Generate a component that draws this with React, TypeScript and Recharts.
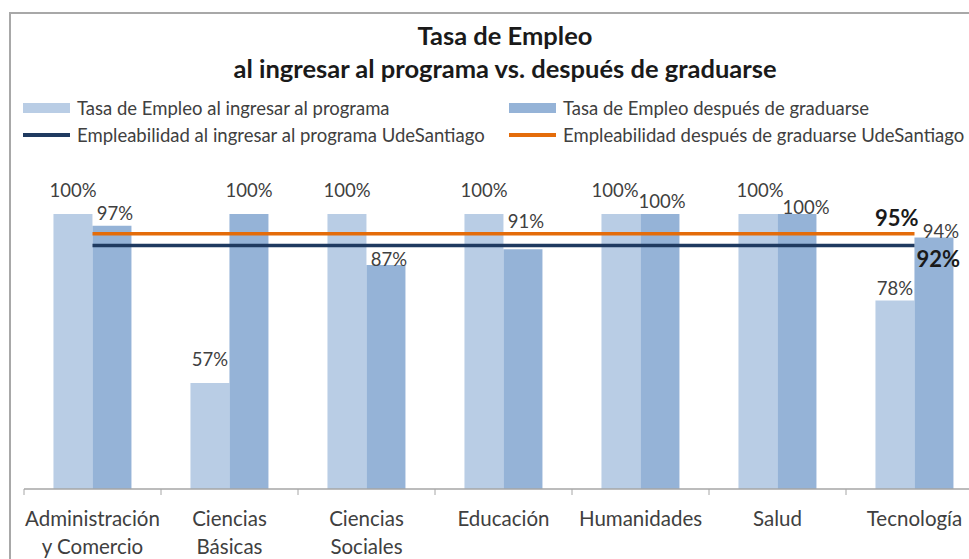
import { ComposedChart, Bar, Line, XAxis, YAxis, LabelList } from 'recharts';

const categories = [
  'Administración\ny Comercio',
  'Ciencias\nBásicas',
  'Ciencias\nSociales',
  'Educación',
  'Humanidades',
  'Salud',
  'Tecnología',
];
const tasaIngreso = [100, 57, 100, 100, 100, 100, 78];
const tasaGraduado = [97, 100, 87, 91, 100, 100, 94];
const empleabIngreso = [92, 92, 92, 92, 92, 92, 92];
const empleabGraduado = [95, 95, 95, 95, 95, 95, 95];

const seriesNames = {
  ingreso: 'Tasa de Empleo al ingresar al programa',
  graduado: 'Tasa de Empleo después de graduarse',
  empIngreso: 'Empleabilidad al ingresar al programa UdeSantiago',
  empGraduado: 'Empleabilidad después de graduarse UdeSantiago',
};

// label nudges copied from the hand-placed labels of the original
const ingresoLift = [24, 24, 24, 24, 24, 24, 12];
const graduadoLift = [13, 24, 6, 28, 13, 7, 7];
const graduadoShift = [3, 0, 3, 3, 2, 9, 7];
const ingresoShift = [0, 0, 0, 0, -6, 2, 0];

const data = categories.map((name, i) => ({
  name,
  ingreso: tasaIngreso[i],
  graduado: tasaGraduado[i],
  empIngreso: empleabIngreso[i],
  empGraduado: empleabGraduado[i],
}));

const CHART_W = 1000;
const CHART_H = 559;
const MARGIN = { top: 214, right: 17, bottom: 10, left: 24 };
const HALF_BAND = (CHART_W - MARGIN.left - MARGIN.right) / categories.length / 2;

const LIGHT = '#B9CDE5';
const DARK = '#95B3D7';
const ORANGE = '#E46C0A';
const NAVY = '#1F3A60';
const TEXT = '#404040';
const FONT = 'Lato, "Noto Sans", sans-serif';

const CategoryTick = (props: any) => {
  const { x, y, payload } = props;
  const lines = String(payload.value).split('\n');
  return (
    <g>
      <line x1={x - HALF_BAND} x2={x - HALF_BAND} y1={y} y2={y + 6} stroke="#A6A6A6" />
      {lines.map((ln, i) => (
        <text
          key={i}
          x={x}
          y={y + 29 + i * 28}
          textAnchor="middle"
          dominantBaseline="central"
          fill={TEXT}
          fontSize={20.5}
          fontFamily={FONT}
        >
          {ln}
        </text>
      ))}
    </g>
  );
};

const barLabel = (lift: number[], shift: number[]) => (props: any) => {
  const { x, y, width, value, index } = props;
  return (
    <text
      x={x + width / 2 + shift[index]}
      y={y - lift[index]}
      textAnchor="middle"
      dominantBaseline="central"
      fill={TEXT}
      fontSize={18.5}
      fontFamily={FONT}
    >
      {value}%
    </text>
  );
};

const endLabel = (anchor: 'start' | 'end', dx: number, dy: number) => (props: any) => {
  const { x, y, value, index } = props;
  if (index !== categories.length - 1) return null;
  return (
    <text
      x={x + dx}
      y={y + dy}
      textAnchor={anchor}
      dominantBaseline="central"
      fill="#1A1A1A"
      fontSize={22}
      fontWeight="bold"
      fontFamily={FONT}
    >
      {value}%
    </text>
  );
};

const LegendItem = ({ color, line, label }: { color: string; line?: boolean; label: string }) => (
  <div style={{ display: 'flex', alignItems: 'center', height: 27 }}>
    <span
      style={{
        display: 'inline-block',
        width: 47,
        height: line ? 4 : 10,
        background: color,
        marginRight: 7,
      }}
    />
    <span style={{ fontSize: 18.5, color: TEXT, whiteSpace: 'nowrap' }}>{label}</span>
  </div>
);

export default function App() {
  return (
    <div
      style={{
        position: 'absolute',
        left: 0,
        top: 0,
        width: 969,
        height: 559,
        overflow: 'hidden',
        background: '#fff',
        fontFamily: FONT,
      }}
    >
      <div
        style={{
          position: 'absolute',
          left: 9,
          top: 12,
          width: 1100,
          height: 700,
          borderLeft: '2px solid #A8A8A8',
          borderTop: '2px solid #A8A8A8',
        }}
      />
      <div
        style={{
          position: 'absolute',
          left: 0,
          top: 19,
          width: 1010,
          textAlign: 'center',
          fontWeight: 'bold',
          fontSize: 25.5,
          lineHeight: '33px',
          color: '#1A1A1A',
        }}
      >
        <div>Tasa de Empleo</div>
        <div>al ingresar al programa vs. después de graduarse</div>
      </div>
      <div style={{ position: 'absolute', left: 23, top: 94 }}>
        <LegendItem color={LIGHT} label={seriesNames.ingreso} />
        <LegendItem color={NAVY} line label={seriesNames.empIngreso} />
      </div>
      <div style={{ position: 'absolute', left: 509, top: 94 }}>
        <LegendItem color={DARK} label={seriesNames.graduado} />
        <LegendItem color={ORANGE} line label={seriesNames.empGraduado} />
      </div>
      <div style={{ position: 'absolute', left: 0, top: 0 }}>
        <ComposedChart
          width={CHART_W}
          height={CHART_H}
          data={data}
          margin={MARGIN}
          barGap={0}
          barCategoryGap="21.5%"
        >
          <XAxis
            dataKey="name"
            interval={0}
            height={60}
            tickSize={0}
            tickMargin={0}
            tickLine={false}
            axisLine={{ stroke: '#A6A6A6', strokeWidth: 1.5 }}
            tick={<CategoryTick />}
          />
          <YAxis hide domain={[30, 100]} allowDataOverflow />
          <Bar dataKey="ingreso" name={seriesNames.ingreso} fill={LIGHT} isAnimationActive={false}>
            <LabelList dataKey="ingreso" content={barLabel(ingresoLift, ingresoShift)} />
          </Bar>
          <Bar dataKey="graduado" name={seriesNames.graduado} fill={DARK} isAnimationActive={false}>
            <LabelList dataKey="graduado" content={barLabel(graduadoLift, graduadoShift)} />
          </Bar>
          <Line
            dataKey="empGraduado"
            name={seriesNames.empGraduado}
            stroke={ORANGE}
            strokeWidth={3.5}
            dot={false}
            isAnimationActive={false}
          >
            <LabelList dataKey="empGraduado" content={endLabel('end', 4, -16)} />
          </Line>
          <Line
            dataKey="empIngreso"
            name={seriesNames.empIngreso}
            stroke={NAVY}
            strokeWidth={3.5}
            dot={false}
            isAnimationActive={false}
          >
            <LabelList dataKey="empIngreso" content={endLabel('start', 2, 13)} />
          </Line>
        </ComposedChart>
      </div>
    </div>
  );
}
